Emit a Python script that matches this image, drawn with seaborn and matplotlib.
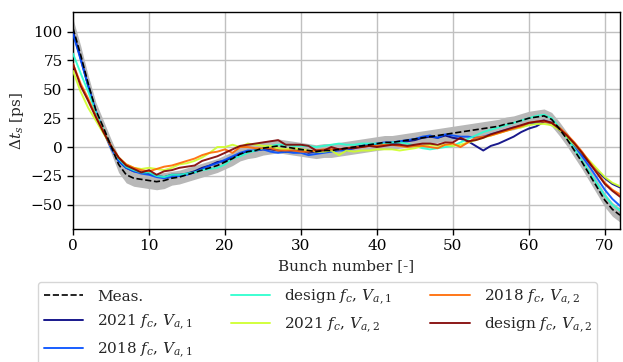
import numpy as np
import pandas as pd
import matplotlib
matplotlib.use("Agg")
import matplotlib.pyplot as plt
import seaborn as sns

bunch = list(range(73))

meas = [103, 80, 55, 32, 17, 1, -15, -24, -27, -28, -29, -30, -29, -27, -26, -24, -22, -20, -18, -16,
        -13, -10, -6, -4, -3, -1, 0, 1, 0, -1, -2, -3, -4, -3, -3, -2, -1, 0, 1, 2,
        3, 4, 4, 5, 6, 7, 8, 9, 10, 11, 12, 13, 14, 15, 16, 17, 18, 20, 21, 23,
        25, 26, 27, 24, 16, 7, -3, -13, -24, -35, -46, -54, -59]
meas_err = [8, 8, 7, 7, 6, 6, 7, 7, 7, 7, 7, 7, 7, 6, 6, 6, 6, 6, 6, 6,
            6, 6, 6, 6, 6, 6, 6, 6, 6, 6, 6, 6, 6, 6, 6, 6, 6, 6, 6, 6,
            6, 6, 6, 6, 6, 6, 6, 6, 6, 6, 6, 6, 6, 6, 6, 6, 6, 6, 6, 6,
            6, 6, 6, 6, 6, 6, 6, 6, 6, 6, 6, 6, 6]

s2021_va1 = [100, 77, 53, 31, 14, 0, -12, -18, -21, -22, -23, -25, -26, -24, -24, -23, -21, -18, -16, -13,
             -12, -9, -6, -4, -3, -2, -2, -3, -4, -3, -3, -5, -4, -3, -3, -2, -2, 0, 1, 2,
             2, 3, 3, 4, 5, 6, 8, 9, 8, 10, 8, 7, 5, 1, -3, 1, 3, 6, 9, 13,
             16, 18, 22, 21, 15, 9, 2, -6, -14, -21, -27, -32, -35]
s2018_va1 = [98, 76, 53, 31, 14, -1, -12, -18, -21, -23, -24, -26, -27, -26, -25, -24, -22, -19, -16, -14,
             -11, -8, -5, -3, -3, -2, -4, -5, -4, -5, -5, -7, -6, -5, -4, -3, -3, -1, 1, 2,
             3, 4, 4, 5, 6, 7, 9, 10, 8, 11, 10, 9, 9, 8, 9, 11, 13, 15, 17, 18,
             20, 21, 23, 21, 16, 9, 1, -8, -17, -27, -37, -45, -51]
design_va1 = [81, 64, 48, 30, 15, 1, -10, -17, -20, -22, -22, -25, -26, -24, -24, -23, -22, -20, -19, -18,
              -15, -10, -8, -5, -3, -1, 1, 2, 2, 1, 1, 1, 0, 1, 2, 3, 2, 2, 3, 3,
              3, 3, 4, 4, 3, 1, -1, -2, -1, 0, 1, 4, 7, 10, 13, 15, 17, 19, 21, 23,
              25, 27, 28, 25, 17, 8, -2, -12, -22, -32, -42, -50, -55]
s2021_va2 = [66, 48, 34, 23, 12, 1, -9, -15, -18, -19, -18, -19, -20, -18, -15, -14, -12, -9, -5, 0,
             0, 2, 0, 3, 2, 1, 1, -1, -2, -1, -2, -3, -4, -4, -3, -7, -3, -4, -3, -3,
             -2, -2, -2, -3, -2, -1, 1, 2, 1, 2, 1, 2, 4, 6, 8, 10, 12, 14, 16, 17,
             19, 20, 20, 19, 15, 9, 2, -5, -12, -19, -26, -31, -34]
s2018_va2 = [72, 55, 42, 27, 14, 1, -9, -15, -18, -20, -21, -19, -17, -16, -14, -12, -10, -7, -5, -4,
             -2, -5, 0, 0, -1, -1, -1, -3, -3, -3, -4, -4, -3, -2, -2, -2, -1, 0, 0, 1,
             1, 2, 2, 1, 0, 1, 1, 0, -1, 2, 3, 0, 4, 8, 9, 10, 12, 14, 16, 18,
             21, 22, 22, 21, 17, 11, 4, -4, -13, -22, -31, -37, -41]
design_va2 = [72, 53, 40, 26, 13, 1, -9, -16, -19, -22, -20, -24, -21, -20, -18, -17, -16, -12, -10, -8,
              -5, -2, 1, 2, 3, 4, 5, 6, 2, 2, 2, 1, -3, -3, 0, -2, -1, -1, 0, 1,
              0, 1, 2, 2, 1, 2, 3, 3, 2, 4, 4, 8, 5, 6, 8, 11, 13, 15, 17, 19,
              21, 22, 23, 21, 16, 10, 3, -5, -14, -23, -32, -38, -43]

series_labels = [r'2021 $f_c$, $V_{a,1}$', r'2018 $f_c$, $V_{a,1}$', r'design $f_c$, $V_{a,1}$',
                 r'2021 $f_c$, $V_{a,2}$', r'2018 $f_c$, $V_{a,2}$', r'design $f_c$, $V_{a,2}$']
series_values = [s2021_va1, s2018_va1, design_va1, s2021_va2, s2018_va2, design_va2]

sns.set_theme(style="ticks", rc={"axes.grid": True})
plt.rcParams['font.family'] = ['DejaVu Serif']
plt.rcParams['mathtext.fontset'] = 'dejavuserif'
plt.rcParams['font.size'] = 11

fig = plt.figure(figsize=(6.23, 3.62), dpi=100)
ax = fig.add_axes([73 / 623, 1 - 229 / 362, (620 - 73) / 623, (229 - 12) / 362])

m = np.array(meas, dtype=float)
e = np.array(meas_err, dtype=float)
ax.fill_between(bunch, m - e, m + e, color='0.72', linewidth=0, zorder=1)

sns.lineplot(x=bunch, y=meas, ax=ax, color='black', linestyle='--', linewidth=1.2,
             label='Meas.', zorder=4)

cmap = plt.get_cmap('jet')
cols = [cmap(v) for v in np.linspace(0, 1, len(series_values))]
for lab, vals, c in zip(series_labels, series_values, cols):
    sns.lineplot(x=bunch, y=vals, ax=ax, color=c, linewidth=1.4, alpha=0.9, label=lab, zorder=3)

ax.set_xlim(0, 72)
ax.set_ylim(-71, 117)
ax.set_xticks([0, 10, 20, 30, 40, 50, 60, 70])
ax.set_yticks([-50, -25, 0, 25, 50, 75, 100])
ax.grid(True, color='#c0c0c0', linewidth=1.0)
for sp in ax.spines.values():
    sp.set_color('black')
    sp.set_linewidth(1.0)
ax.tick_params(axis='both', labelsize=11, colors='black', length=4, width=1)
ax.set_xlabel('Bunch number [-]', fontsize=11, labelpad=4)
ax.set_ylabel(r'$\Delta t_s$ [ps]', fontsize=11, labelpad=3)

ax.legend(loc='upper center', bbox_to_anchor=(0.51, 1 - 282 / 362), bbox_transform=fig.transFigure,
          ncol=3, fontsize=11, frameon=True, columnspacing=2.5, handlelength=2.6,
          handletextpad=0.9, labelspacing=0.55, borderpad=0.35, borderaxespad=0)

fig.savefig('out.png', dpi=100)
